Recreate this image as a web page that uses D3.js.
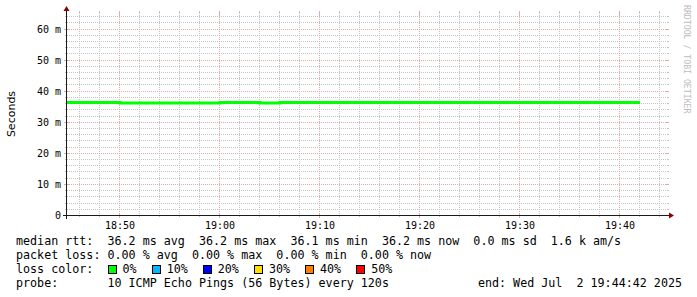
<!DOCTYPE html>
<html>
<head>
<meta charset="utf-8">
<script src="https://cdn.jsdelivr.net/npm/d3@7"></script>
<style>
  body { margin: 0; background: #fff; }
  svg { display: block; }
  text { white-space: pre; }
</style>
</head>
<body>
<div id="chart"></div>
<script>
// ---- data ----
var day = "2025-07-02";
var rangeStart = "18:44:42";
var rangeEnd = "19:44:42";
var stepMinutes = 2;

// start of each 120s bucket and its median rtt (ms)
var sampleTimes = ["18:44", "18:46", "18:48", "18:50", "18:52", "18:54", "18:56", "18:58",
                   "19:00", "19:02", "19:04", "19:06", "19:08", "19:10", "19:12", "19:14",
                   "19:16", "19:18", "19:20", "19:22", "19:24", "19:26", "19:28", "19:30",
                   "19:32", "19:34", "19:36", "19:38", "19:40"];
var medianRtt = [36.24, 36.24, 36.24, 36.06, 36.06, 36.06, 36.06, 36.06,
                 36.24, 36.24, 36.06, 36.24, 36.24, 36.24, 36.24, 36.24,
                 36.24, 36.24, 36.24, 36.24, 36.24, 36.24, 36.24, 36.24,
                 36.24, 36.24, 36.24, 36.24, 36.24];

var yMax = 65;
var yTicks = [0, 10, 20, 30, 40, 50, 60];
var yTickLabels = ["0", "10 m", "20 m", "30 m", "40 m", "50 m", "60 m"];
var xTickLabels = ["18:50", "19:00", "19:10", "19:20", "19:30", "19:40"];

var rttNames = ["avg", "max", "min", "now"];
var rttValues = ["36.2", "36.2", "36.1", "36.2"];
var rttSd = "0.0";
var rttAms = "1.6 k";
var lossNames = ["avg", "max", "min", "now"];
var lossValues = ["0.00", "0.00", "0.00", "0.00"];
var lossLabels = ["0%", "10%", "20%", "30%", "40%", "50%"];
var lossColors = ["#00ff00", "#00b8ff", "#0000ff", "#ffe000", "#ff8000", "#ff0000"];
var probeText = "10 ICMP Echo Pings (56 Bytes) every 120s";
var endText = "end: Wed Jul  2 19:44:42 2025";

// ---- layout ----
var W = 697, H = 297;
var X0 = 67, X1 = 667, Y0 = 215, Y1 = 13;
var mono = "'DejaVu Sans Mono', monospace";
var gridCol = "#c4c4c4", mgridCol = "#e6a8a8";

var parse = d3.timeParse("%Y-%m-%d %H:%M:%S");
var t0 = parse(day + " " + rangeStart), t1 = parse(day + " " + rangeEnd);

var x = d3.scaleTime().domain([t0, t1]).range([X0, X1]);
var y = d3.scaleLinear().domain([0, yMax]).range([Y0, Y1]);

var svg = d3.select("#chart").append("svg")
    .attr("width", W).attr("height", H);
svg.append("rect").attr("width", W).attr("height", H).attr("fill", "#fff");

svg.append("clipPath").attr("id", "plot")
  .append("rect").attr("x", X0).attr("y", Y1).attr("width", X1 - X0).attr("height", Y0 - Y1);

var grid = svg.append("g").attr("shape-rendering", "crispEdges");

// vertical grid
var minorT = d3.timeMinute.every(2).range(t0, t1).filter(function(d) { return d.getMinutes() % 10 !== 0; });
var majorT = d3.timeMinute.every(10).range(t0, t1);
function vx(d) { return Math.round(x(d)) - 0.5; }
function hy(v) { return Math.round(y(v)) + 0.5; }

minorT.forEach(function(d) {
  var px = vx(d);
  grid.append("line").attr("x1", px).attr("x2", px).attr("y1", Y1).attr("y2", Y0)
    .attr("stroke", gridCol).attr("stroke-dasharray", "1,1");
  grid.append("line").attr("x1", px).attr("x2", px).attr("y1", Y0).attr("y2", Y0 + 2).attr("stroke", gridCol);
  grid.append("line").attr("x1", px).attr("x2", px).attr("y1", Y1 - 2).attr("y2", Y1).attr("stroke", gridCol);
});

// horizontal grid
var minorY = d3.range(2, yMax, 2).filter(function(v) { return v % 10 !== 0; });
minorY.forEach(function(v) {
  var py = hy(v);
  grid.append("line").attr("x1", X0).attr("x2", X1).attr("y1", py).attr("y2", py)
    .attr("stroke", gridCol).attr("stroke-dasharray", "1,1");
  grid.append("line").attr("x1", X0 - 2).attr("x2", X0).attr("y1", py).attr("y2", py).attr("stroke", gridCol);
  grid.append("line").attr("x1", X1).attr("x2", X1 + 2).attr("y1", py).attr("y2", py).attr("stroke", gridCol);
});

majorT.forEach(function(d) {
  var px = vx(d);
  grid.append("line").attr("x1", px).attr("x2", px).attr("y1", Y1).attr("y2", Y0)
    .attr("stroke", mgridCol).attr("stroke-dasharray", "1,1");
  grid.append("line").attr("x1", px).attr("x2", px).attr("y1", Y0 - 2).attr("y2", Y0 + 3).attr("stroke", mgridCol);
  grid.append("line").attr("x1", px).attr("x2", px).attr("y1", Y1 - 2).attr("y2", Y1 + 2).attr("stroke", mgridCol);
});

yTicks.filter(function(v) { return v > 0; }).forEach(function(v) {
  var py = hy(v);
  grid.append("line").attr("x1", X0).attr("x2", X1).attr("y1", py).attr("y2", py)
    .attr("stroke", mgridCol).attr("stroke-dasharray", "1,1");
  grid.append("line").attr("x1", X0 - 3).attr("x2", X0 + 2).attr("y1", py).attr("y2", py).attr("stroke", mgridCol);
  grid.append("line").attr("x1", X1 - 2).attr("x2", X1 + 2).attr("y1", py).attr("y2", py).attr("stroke", mgridCol);
});

// median rtt line
var pts = sampleTimes.map(function(s, i) {
  return { t: parse(day + " " + s + ":00"), v: medianRtt[i] };
});
var last = pts[pts.length - 1];
pts.push({ t: d3.timeMinute.offset(last.t, stepMinutes), v: last.v });

var line = d3.line()
    .x(function(d) { return x(d.t); })
    .y(function(d) { return y(d.v); })
    .curve(d3.curveStepAfter);

svg.append("path")
    .datum(pts)
    .attr("clip-path", "url(#plot)")
    .attr("d", line)
    .attr("fill", "none")
    .attr("stroke", "#00ff00")
    .attr("stroke-width", 3);

// axes
var ax = svg.append("g").attr("shape-rendering", "crispEdges");
ax.append("line").attr("x1", X0 - 4).attr("x2", X1 + 4).attr("y1", Y0 + 0.5).attr("y2", Y0 + 0.5)
  .attr("stroke", "#1a1a1a");
ax.append("line").attr("x1", X0 - 0.5).attr("x2", X0 - 0.5).attr("y1", Y0 + 4).attr("y2", Y1 - 4)
  .attr("stroke", "#1a1a1a");
svg.append("path")
  .attr("d", "M" + (X1 + 2) + "," + (Y0 - 2.5) + "L" + (X1 + 7) + "," + (Y0 + 0.5) + "L" + (X1 + 2) + "," + (Y0 + 3.5) + "Z")
  .attr("fill", "#8b0000");
svg.append("path")
  .attr("d", "M" + (X0 - 3.5) + "," + (Y1 - 2) + "L" + (X0 - 0.5) + "," + (Y1 - 7) + "L" + (X0 + 2.5) + "," + (Y1 - 2) + "Z")
  .attr("fill", "#8b0000");

// tick labels
svg.append("g").selectAll("text")
  .data(yTicks)
  .enter().append("text")
    .attr("x", 61)
    .attr("y", function(v) { return Math.round(y(v)) + 4; })
    .attr("text-anchor", "end")
    .attr("font-family", mono)
    .attr("font-size", 10)
    .text(function(v, i) { return yTickLabels[i]; });

svg.append("g").selectAll("text")
  .data(majorT)
  .enter().append("text")
    .attr("x", function(d) { return Math.round(x(d)); })
    .attr("y", 228.5)
    .attr("text-anchor", "middle")
    .attr("font-family", mono)
    .attr("font-size", 10)
    .text(function(d, i) { return xTickLabels[i]; });

// y axis title
svg.append("text")
  .attr("transform", "translate(15," + ((Y0 + Y1) / 2) + ") rotate(-90)")
  .attr("text-anchor", "middle")
  .attr("font-family", "'DejaVu Sans', sans-serif")
  .attr("font-size", 11)
  .text("Seconds");

// watermark
svg.append("text")
  .attr("transform", "translate(684,5) rotate(90)")
  .attr("font-family", mono)
  .attr("font-size", 8.2)
  .attr("fill", "#bdbdbd")
  .text("RRDTOOL / TOBI OETIKER");

// legend
var fs = 11.7, cw = fs * 0.602;
var leg = svg.append("g").attr("font-family", mono).attr("font-size", fs).attr("fill", "#000");
var LX = 16;

var row1 = "median rtt:  " + rttValues.map(function(v, i) { return v + " ms " + rttNames[i]; }).join("  ")
  + "  " + rttSd + " ms sd  " + rttAms + " am/s";
var row2 = "packet loss: " + lossValues.map(function(v, i) { return v + " % " + lossNames[i]; }).join("  ");
leg.append("text").attr("x", LX).attr("y", 245).text(row1);
leg.append("text").attr("x", LX).attr("y", 259).text(row2);
leg.append("text").attr("x", LX).attr("y", 273).text("loss color:");
leg.append("text").attr("x", LX).attr("y", 287).text("probe:       " + probeText);
leg.append("text").attr("x", 682).attr("y", 287).attr("text-anchor", "end").text(endText);

var bx = LX + 13 * cw;
lossLabels.forEach(function(lab, i) {
  leg.append("rect")
    .attr("x", Math.round(bx) + 0.5).attr("y", 265.5)
    .attr("width", 8).attr("height", 8)
    .attr("fill", lossColors[i]).attr("stroke", "#000").attr("stroke-width", 1);
  leg.append("text").attr("x", bx + 15).attr("y", 273).text(lab);
  bx = bx + 15 + lab.length * cw + 15;
});
</script>
</body>
</html>
